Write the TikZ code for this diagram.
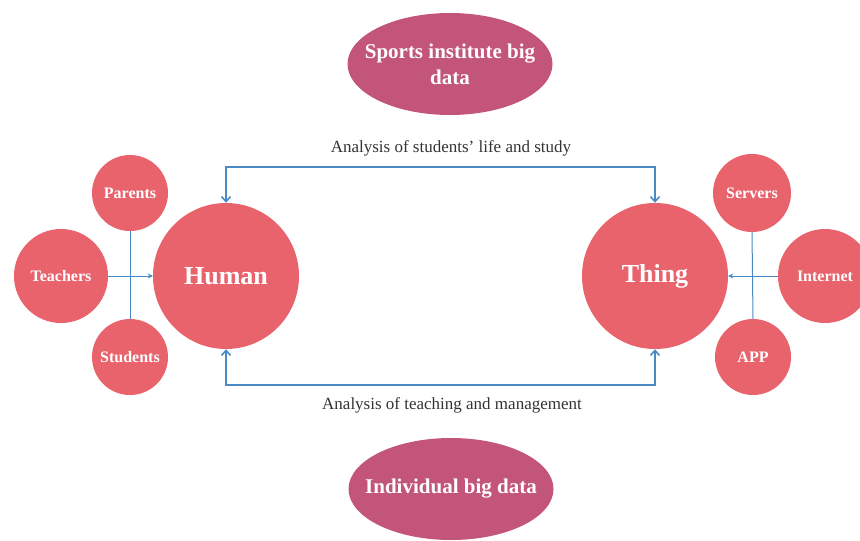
\documentclass[tikz,border=0pt]{standalone}
\usepackage{fontspec}
\setmainfont{Liberation Serif}
\usetikzlibrary{shapes.geometric,arrows.meta}
\definecolor{ballred}{HTML}{E9636D}
\definecolor{datapink}{HTML}{C3557A}
\definecolor{linkblue}{HTML}{4A8AC4}
\tikzset{
	ball/.style={circle, fill=ballred, inner sep=0pt, text=white, font=\bfseries\fontsize{16}{18}\selectfont},
	bigball/.style={ball, minimum size=146pt, font=\bfseries\fontsize{26}{28}\selectfont},
	datablob/.style={ellipse, fill=datapink, inner xsep=-30pt, inner ysep=0pt, minimum width=205pt, minimum height=102pt, text=white, align=center, font=\bfseries\fontsize{21}{26}\selectfont},
	lbl/.style={text=black!80, font=\fontsize{17}{19}\selectfont},
	loopline/.style={draw=linkblue, line width=1.6pt, {Straight Barb[length=5pt,width=9pt]}-{Straight Barb[length=5pt,width=9pt]}},
	spoke/.style={draw=linkblue, line width=1pt}
}
\begin{document}
\begin{tikzpicture}[x=1pt,y=-1pt]
	\useasboundingbox (0,0) rectangle (860,541);
	% The two data sources
	\node[datablob] (sports) at (450,64) {Sports institute big\\data};
	\node[datablob] (individual) at (451,489) {Individual big data};
	% Main circles
	\node[bigball] (human) at (226,276) {Human};
	\node[bigball] (thing) at (655,276) {Thing};
	% Small circles on the left
	\node[ball, minimum size=76pt] (parents) at (130,193) {Parents};
	\node[ball, minimum size=94pt] (teachers) at (61,276) {Teachers};
	\node[ball, minimum size=76pt] (students) at (130,357) {Students};
	% Small circles on the right
	\node[ball, minimum size=78pt] (servers) at (752,193) {Servers};
	\node[ball, minimum size=94pt] (internet) at (825,276) {Internet};
	\node[ball, minimum size=76pt] (app) at (753,357) {APP};
	% Labels
	\node[lbl] (lifelbl) at (451,148) {Analysis of students' life and study};
	\node[lbl] (teachlbl) at (452,405) {Analysis of teaching and management};
	% Loops between Human and Thing
	\draw[loopline] (human.north) -- ++(0,-36) -| (thing.north);
	\draw[loopline] (human.south) -- ++(0,36) -| (thing.south);
	% Spokes
	\draw[spoke] (parents.south) -- (students.north);
	\draw[spoke,-{Stealth[length=5pt,width=5pt]}] (teachers.east) -- (human.west);
	\draw[spoke] (servers.south) -- (app.north);
	\draw[spoke,-{Stealth[length=5pt,width=5pt]}] (internet.west) -- (thing.east);
\end{tikzpicture}
\end{document}
